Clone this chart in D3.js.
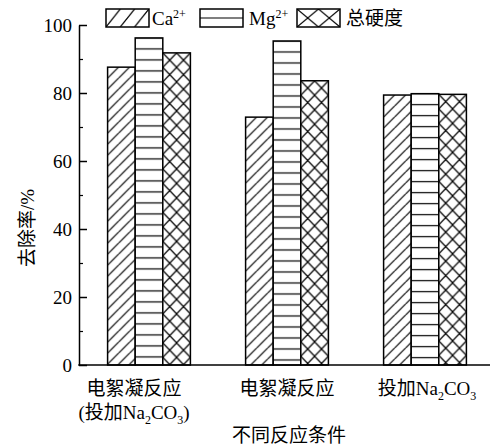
<!DOCTYPE html>
<html><head><meta charset="utf-8">
<script src="https://cdn.jsdelivr.net/npm/d3@7"></script>
<style>
body{margin:0;background:#fff;}
text{font-family:"Liberation Serif","Noto Sans CJK SC",serif;fill:#000;}
</style></head>
<body><svg id="c" width="494" height="445"></svg>
<script>
const categories = ["电絮凝反应|(投加Na_2CO_3)", "电絮凝反应", "投加Na_2CO_3"];
const seriesNames = ["Ca", "Mg", "总硬度"];
const caValues = [87.6, 72.9, 79.4];
const mgValues = [96.2, 95.3, 79.8];
const totalValues = [91.8, 83.6, 79.6];
const yTicks = [0, 20, 40, 60, 80, 100];
const yMinorTicks = [10, 30, 50, 70, 90];
const yTitle = "去除率/%";
const xTitle = "不同反应条件";

const svg = d3.select("#c");
const defs = svg.append("defs");
const x = d3.scaleBand().domain(categories).range([80, 494]).paddingInner(0.4).paddingOuter(0.2);
const xs = d3.scaleBand().domain(seriesNames).range([0, x.bandwidth()]);
const y = d3.scaleLinear().domain([0, 100]).range([365, 25]);
const axisX0 = 79;
const labelShift = [-15, 0, 2];

let pid = 0;
function makePattern(kind, px, py, w, h){
  const id = "p" + (pid++);
  const p = defs.append("pattern").attr("id", id).attr("patternUnits","userSpaceOnUse")
    .attr("x", px).attr("y", py).attr("width", w).attr("height", h);
  p.append("rect").attr("width", w).attr("height", h).attr("fill", "#fff");
  const g = p.append("g").attr("stroke","#000").attr("stroke-width",1.2).attr("fill","none");
  if(kind === "Ca"){
    g.append("line").attr("x1",0).attr("y1",h).attr("x2",w).attr("y2",0);
    g.append("line").attr("x1",-w).attr("y1",h).attr("x2",0).attr("y2",0);
    g.append("line").attr("x1",w).attr("y1",h).attr("x2",2*w).attr("y2",0);
  } else if(kind === "Mg"){
    g.append("line").attr("x1",0).attr("y1",h/2).attr("x2",w).attr("y2",h/2);
  } else {
    g.append("line").attr("x1",0).attr("y1",0).attr("x2",w).attr("y2",h);
    g.append("line").attr("x1",0).attr("y1",h).attr("x2",w).attr("y2",0);
  }
  return "url(#" + id + ")";
}
function fillFor(kind, bx, by, bw){
  if(kind === "Ca") return makePattern("Ca", bx, by, 11, 11);
  if(kind === "Mg") return makePattern("Mg", bx, by - 5.5, 11, 11);
  return makePattern("X", bx, by, bw/2, 14.5);
}

const data = [caValues, mgValues, totalValues];
categories.forEach((c, i) => {
  seriesNames.forEach((s, j) => {
    const v = data[j][i];
    const bx = x(c) + xs(s), by = y(v), bw = xs.bandwidth(), bh = y(0) - y(v);
    svg.append("rect").attr("x", bx).attr("y", by).attr("width", bw).attr("height", bh)
      .attr("fill", fillFor(s, bx, by, bw)).attr("stroke", "#000").attr("stroke-width", 1.5);
  });
});

// y axis
const ya = svg.append("g").attr("transform", `translate(${axisX0},0)`)
  .call(d3.axisLeft(y).tickValues(yTicks).tickSizeInner(-8).tickSizeOuter(0).tickPadding(7));
ya.select(".domain").attr("stroke-width", 1.5);
ya.selectAll(".tick line").attr("stroke-width", 1.5);
ya.selectAll("text").style("font-size", "19px").attr("font-family", "Liberation Serif");
const ym = svg.append("g").attr("transform", `translate(${axisX0},0)`)
  .call(d3.axisLeft(y).tickValues(yMinorTicks).tickSizeInner(-4).tickSizeOuter(0).tickFormat(""));
ym.select(".domain").remove();
ym.selectAll(".tick line").attr("stroke-width", 1.2);

// x axis
svg.append("line").attr("x1", axisX0 - 0.75).attr("x2", 490).attr("y1", y(0)).attr("y2", y(0))
  .attr("stroke", "#000").attr("stroke-width", 1.5);
const xa = svg.append("g").attr("transform", `translate(0,${y(0)})`)
  .call(d3.axisBottom(x).tickSize(0).tickFormat(""));
xa.select(".domain").remove();

function richText(sel, str){
  const parts = str.split(/(_\d)/).filter(p => p);
  let shift = 0;
  parts.forEach(p => {
    if(p[0] === "_"){
      sel.append("tspan").text(p.slice(1)).attr("font-size", "12px").attr("dy", 5 - shift);
      shift = 5;
    } else {
      sel.append("tspan").text(p).attr("dy", -shift);
      shift = 0;
    }
  });
}
categories.forEach((c, i) => {
  const lines = c.split("|");
  lines.forEach((ln, k) => {
    const t = svg.append("text").attr("x", x(c) + x.bandwidth()/2 + labelShift[i]).attr("y", 395 + k*24)
      .attr("text-anchor", "middle").style("font-size", "19px");
    richText(t, ln);
  });
});

svg.append("text").attr("x", 289).attr("y", 442).attr("text-anchor","middle").style("font-size","19px").text(xTitle);
svg.append("text").attr("transform", "translate(34,228) rotate(-90)").attr("text-anchor","middle")
  .style("font-size","19px").text(yTitle);

// legend
const legItems = [
  {k:"Ca", label:"Ca", sup:"2+", x:106},
  {k:"Mg", label:"Mg", sup:"2+", x:200},
  {k:"X", label:"总硬度", sup:"", x:297}
];
legItems.forEach(it => {
  const bx = it.x, by = 9, bw = 43, bh = 18;
  let f;
  if(it.k === "Ca") f = makePattern("Ca", bx, by, 14.3, 18);
  else if(it.k === "Mg") f = makePattern("Mg", bx, by, 43, 18);
  else f = makePattern("X", bx, by, 21.5, 18);
  svg.append("rect").attr("x", bx).attr("y", by).attr("width", bw).attr("height", bh)
    .attr("fill", f).attr("stroke", "#000").attr("stroke-width", 1.5);
  const t = svg.append("text").attr("x", bx + bw + (it.k === "Ca" ? 3 : 6)).attr("y", 25).style("font-size", "19px");
  t.append("tspan").text(it.label);
  if(it.sup) t.append("tspan").text(it.sup).attr("font-size", "12px").attr("dy", -7);
});
</script></body></html>
